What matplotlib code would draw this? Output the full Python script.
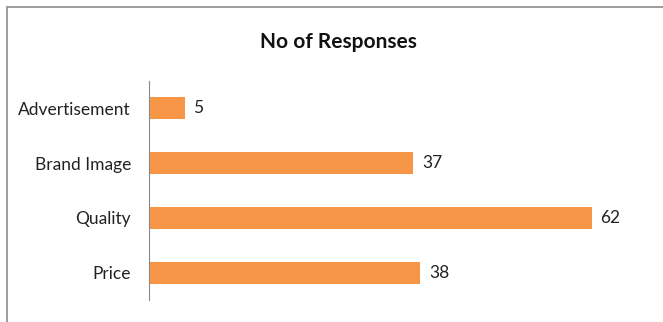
import matplotlib
matplotlib.use("Agg")
import matplotlib.pyplot as plt
from matplotlib.patches import Rectangle

categories = ["Price", "Quality", "Brand Image", "Advertisement"]
responses = [38, 62, 37, 5]

plt.rcParams["font.family"] = ["Lato", "DejaVu Sans"]

fig = plt.figure(figsize=(6.63, 3.22), dpi=100)
# outer chart frame (cropped at right and bottom)
fig.patches.append(Rectangle((7 / 663, -0.1), 1.2, 1 - 7 / 322 + 0.1,
                             transform=fig.transFigure, fill=False,
                             edgecolor="#8c8c8c", linewidth=1.2))

ax = fig.add_axes([149 / 663, 1 - 300 / 322, 500 / 663, 219 / 322])
y = range(len(categories))
bars = ax.barh(y, responses, height=0.4, color="#f79646")
ax.set_xlim(0, 70)
ax.set_ylim(-0.5, 3.5)
ax.set_yticks(list(y))
ax.set_yticklabels(categories, fontsize=12.5, color="#222222")
ax.tick_params(axis="y", length=0, pad=13)
ax.set_xticks([])
for s in ["top", "right", "bottom"]:
    ax.spines[s].set_visible(False)
ax.spines["left"].set_color("#888888")
ax.spines["left"].set_linewidth(0.8)

for bar, v in zip(bars, responses):
    ax.text(bar.get_width() + 1.2, bar.get_y() + bar.get_height() / 2, str(v),
            va="center", ha="left", fontsize=12.5, color="#222222")

fig.text(0.51, 1 - 42 / 322, "No of Responses", ha="center", va="center",
         fontsize=15, fontweight="bold", color="#111111")

fig.savefig("out.png", dpi=100)
